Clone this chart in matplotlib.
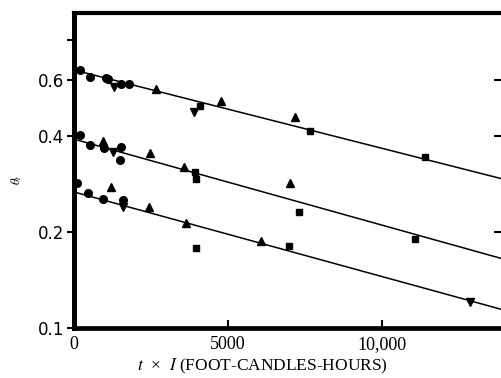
import numpy as np
import matplotlib
matplotlib.use("Agg")
import matplotlib.pyplot as plt

plt.rcParams['mathtext.fontset'] = 'stix'

# fitted lines: value at x=0 and at x=14000
line_x = [0, 14000]
line_top = [0.644, 0.292]
line_mid = [0.391, 0.164]
line_bot = [0.267, 0.1136]

# upper group
top_circle_x = [190, 510, 1030, 1090, 1540, 1800]
top_circle_y = [0.644, 0.612, 0.608, 0.603, 0.582, 0.582]
top_tri_x = [2660, 4780, 7180]
top_tri_y = [0.561, 0.515, 0.459]
top_inv_x = [1310, 3910]
top_inv_y = [0.569, 0.475]
top_sq_x = [4100, 7660, 11410]
top_sq_y = [0.497, 0.415, 0.344]

# middle group
mid_circle_x = [190, 510, 960, 1540, 1510]
mid_circle_y = [0.403, 0.375, 0.367, 0.369, 0.336]
mid_tri_x = [930, 2470, 3560, 7020]
mid_tri_y = [0.386, 0.354, 0.320, 0.285]
mid_inv_x = [1280]
mid_inv_y = [0.356]
mid_sq_x = [3940, 3975, 7310, 11090]
mid_sq_y = [0.308, 0.293, 0.231, 0.190]

# lower group
bot_circle_x = [100, 450, 930, 1600]
bot_circle_y = [0.285, 0.265, 0.254, 0.252]
bot_tri_x = [1190, 2440, 3650, 6060]
bot_tri_y = [0.277, 0.239, 0.213, 0.187]
bot_inv_x = [1600, 12850]
bot_inv_y = [0.239, 0.121]
bot_sq_x = [3975, 6990]
bot_sq_y = [0.178, 0.181]

fig = plt.figure(figsize=(5.02, 3.78), dpi=100)
ax = fig.add_axes([74 / 502, 50 / 378, (505 - 74) / 502, 315 / 378])
ax.set_yscale('log')
ax.set_xlim(0, 14000)
ax.set_ylim(0.1, 0.972)

for ys in (line_top, line_mid, line_bot):
    ax.plot(line_x, ys, color='black', lw=1.1, zorder=2)

ms = dict(color='black', linestyle='none', zorder=3, clip_on=False)
ax.plot(top_circle_x + mid_circle_x + bot_circle_x,
        top_circle_y + mid_circle_y + bot_circle_y, marker='o', ms=5.5, **ms)
ax.plot(top_tri_x + mid_tri_x + bot_tri_x,
        top_tri_y + mid_tri_y + bot_tri_y, marker='^', ms=5.5, **ms)
ax.plot(top_inv_x + mid_inv_x + bot_inv_x,
        top_inv_y + mid_inv_y + bot_inv_y, marker='v', ms=5.5, **ms)
ax.plot(top_sq_x + mid_sq_x + bot_sq_x,
        top_sq_y + mid_sq_y + bot_sq_y, marker='s', ms=5, **ms)

for side, lw in (('left', 3.6), ('bottom', 3.4), ('top', 3.0)):
    ax.spines[side].set_linewidth(lw)
ax.spines['right'].set_visible(False)

ax.set_yticks([0.1, 0.2, 0.4, 0.6, 0.8])
ax.set_yticklabels(['0.1', '0.2', '0.4', '0.6', ''])
ax.yaxis.set_minor_locator(matplotlib.ticker.NullLocator())
ax.tick_params(axis='y', direction='out', length=5, width=1.5, pad=2,
               labelsize=12)
for lab in ax.get_yticklabels():
    lab.set_family('DejaVu Sans')

ax.set_xticks([0, 5000, 10000])
ax.set_xticklabels(['0', '5000', '10,000'])
ax.tick_params(axis='x', direction='in', length=6, width=1.5, pad=6,
               labelsize=13)
for lab in ax.get_xticklabels():
    lab.set_family('Liberation Serif')

ax2 = ax.twinx()
ax2.set_yscale('log')
ax2.set_ylim(ax.get_ylim())
ax2.set_yticks([0.2, 0.4, 0.6])
ax2.set_yticklabels([])
ax2.yaxis.set_minor_locator(matplotlib.ticker.NullLocator())
ax2.tick_params(axis='y', direction='in', length=8, width=1.5)
for s in ax2.spines.values():
    s.set_visible(False)

fig.text(262 / 502, 1 - 366 / 378, r'$t$  ×  $I$ (FOOT-CANDLES-HOURS)',
         ha='center', va='center', fontsize=12.5, family='Liberation Serif')
fig.text(17 / 502, 1 - 180 / 378, r'$\theta_t$', rotation=90,
         ha='center', va='center', fontsize=9)

fig.savefig('out.png', dpi=100)
